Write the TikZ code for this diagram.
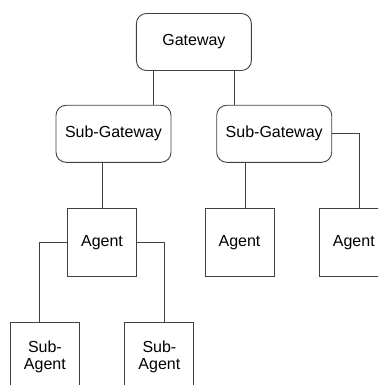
\documentclass[tikz,border=0pt]{standalone}
\usepackage{fontspec}
\setmainfont{Liberation Sans}
\begin{document}
\begin{tikzpicture}[x=1pt,y=-1pt,
  every node/.style={font=\fontsize{16}{16.5}\selectfont, text=black, inner sep=0pt},
  link/.style={draw=black!75, line width=0.9pt},
  gwbox/.style={link, rounded corners=10pt, minimum width=115pt, minimum height=57pt},
  agbox/.style={link, minimum width=69pt, minimum height=68.4pt, align=center}]
  \useasboundingbox (0,0) rectangle (378,385);
  \clip (0,0) rectangle (378,385);

  % gateway tier
  \node[gwbox] (gw)  at (193.9,42)   {Gateway};
  \node[gwbox] (sgl) at (113.5,133.8) {Sub-Gateway};
  \node[gwbox] (sgr) at (274.2,133.8) {Sub-Gateway};

  % agents
  \node[agbox] (a1) at (102,242.5)   {Agent};
  \node[agbox] (a2) at (239.5,242.5) {Agent};
  \node[agbox] (a3) at (353.8,242.5) {Agent};

  % sub-agents
  \node[agbox] (sa1) at (44.9,356.9)  {Sub-\\Agent};
  \node[agbox] (sa2) at (159.4,356.9) {Sub-\\Agent};

  % connectors
  \draw[link] ([xshift=17pt]gw.south west) -- ([xshift=17pt]gw.south west |- sgl.north);
  \draw[link] ([xshift=-17.7pt]gw.south east) -- ([xshift=-17.7pt]gw.south east |- sgr.north);
  \draw[link] (a1.north |- sgl.south) -- (a1.north);
  \draw[link] ([xshift=6.2pt]a2.north |- sgr.south) -- ([xshift=6.2pt]a2.north);
  \draw[link] (sgr.east) -| ([xshift=5.5pt]a3.north);
  \draw[link] (a1.west) -| ([xshift=-5.6pt]sa1.north);
  \draw[link] (a1.east) -| ([xshift=5.3pt]sa2.north);
\end{tikzpicture}
\end{document}
